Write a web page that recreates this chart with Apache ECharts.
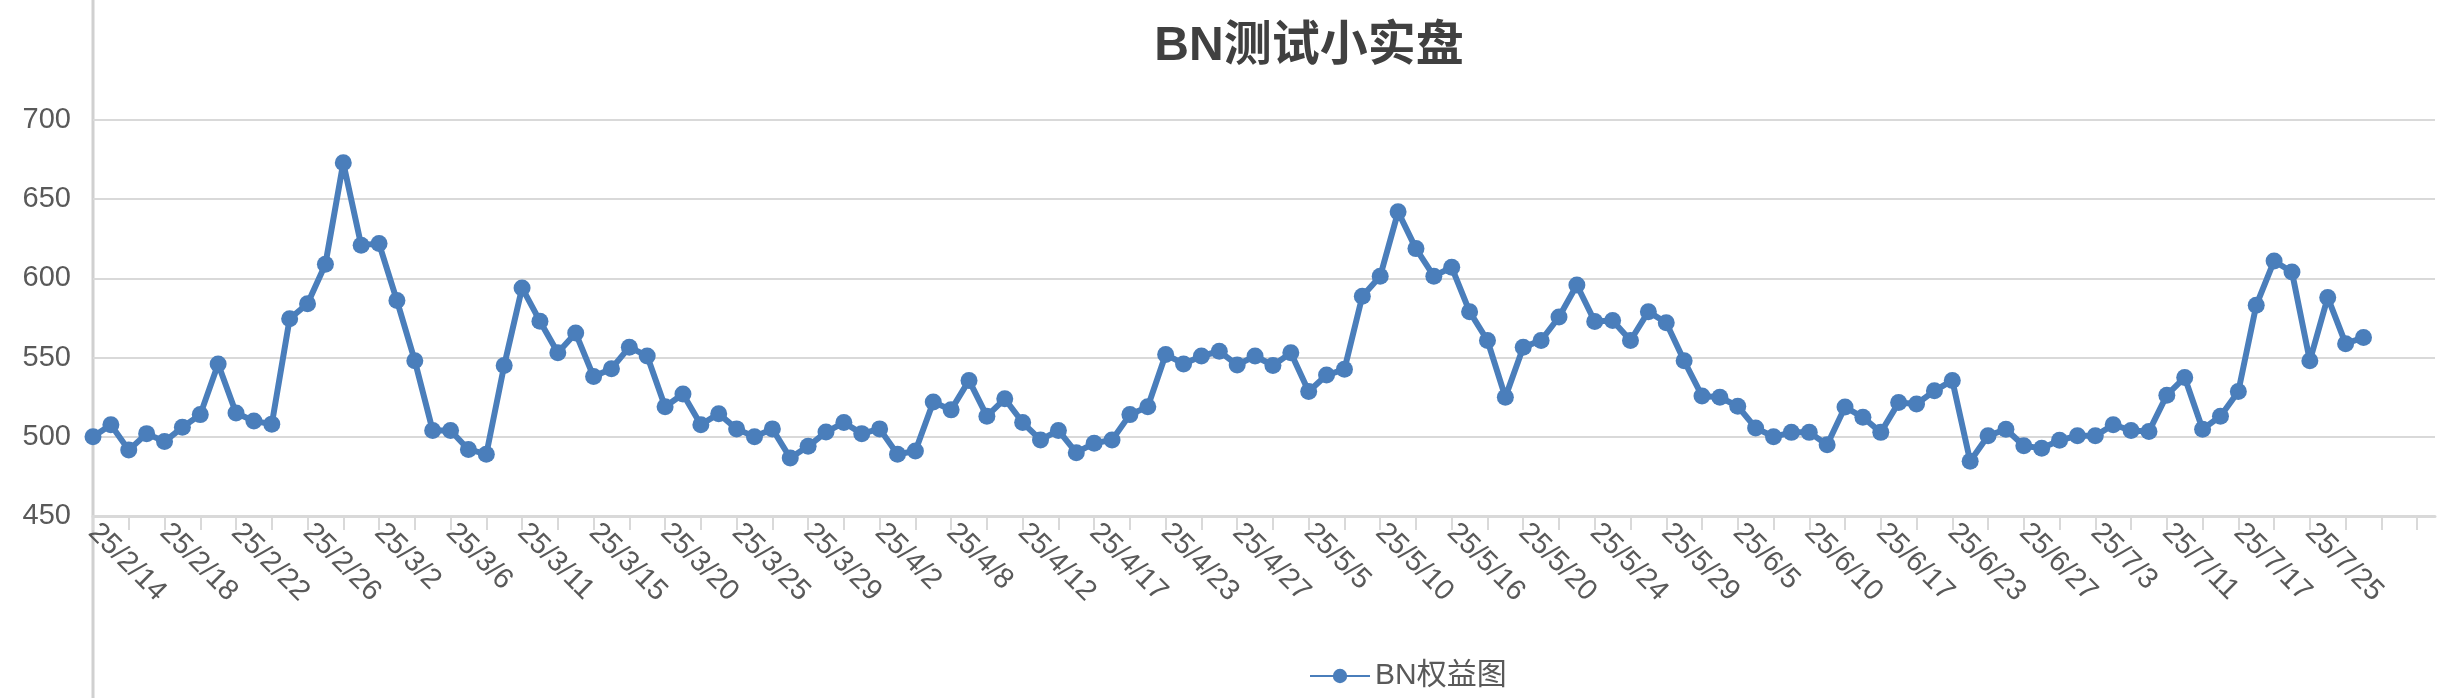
<!DOCTYPE html>
<html><head><meta charset="utf-8">
<script src="https://cdn.jsdelivr.net/npm/echarts@6/dist/echarts.min.js"></script>
<style>html,body{margin:0;padding:0;background:#fff}#c{width:2440px;height:698px}</style>
</head><body><div id="c"></div>
<script>
const categories = [
'25/2/14','25/2/15','25/2/16','25/2/17','25/2/18','25/2/19','25/2/20','25/2/21','25/2/22','25/2/23','25/2/24','25/2/25',
'25/2/26','25/2/27','25/2/28','25/3/1','25/3/2','25/3/3','25/3/4','25/3/5','25/3/6','25/3/7','25/3/9','25/3/10',
'25/3/11','25/3/12','25/3/13','25/3/14','25/3/15','25/3/17','25/3/18','25/3/19','25/3/20','25/3/21','25/3/23','25/3/24',
'25/3/25','25/3/26','25/3/27','25/3/28','25/3/29','25/3/30','25/3/31','25/4/1','25/4/2','25/4/3','25/4/6','25/4/7',
'25/4/8','25/4/9','25/4/10','25/4/11','25/4/12','25/4/14','25/4/15','25/4/16','25/4/17','25/4/19','25/4/21','25/4/22',
'25/4/23','25/4/24','25/4/25','25/4/26','25/4/27','25/4/29','25/5/1','25/5/3','25/5/5','25/5/6','25/5/8','25/5/9',
'25/5/10','25/5/12','25/5/14','25/5/15','25/5/16','25/5/17','25/5/18','25/5/19','25/5/20','25/5/21','25/5/22','25/5/23',
'25/5/24','25/5/26','25/5/27','25/5/28','25/5/29','25/5/31','25/6/2','25/6/3','25/6/5','25/6/6','25/6/8','25/6/9',
'25/6/10','25/6/12','25/6/14','25/6/16','25/6/17','25/6/19','25/6/20','25/6/22','25/6/23','25/6/24','25/6/25','25/6/26',
'25/6/27','25/6/29','25/7/1','25/7/2','25/7/3','25/7/5','25/7/8','25/7/10','25/7/11','25/7/13','25/7/15','25/7/16',
'25/7/17','25/7/19','25/7/21','25/7/23','25/7/25','25/7/26','25/7/27','25/7/28','','','',''
];
const equity = [
500,507.6,491.6,502,497,506,514,546,515,510,508,574.5,584,609,673,621,622,586,548,504,504,492,489,545,
594,573,553,565.5,538,543,556.6,551,519,527,507.6,514.6,505,500,505,486.6,494,503,509,502,505,489,491,522,
517,535.6,513,524,509,498,504,490,496,498,514,519,552,546,551,554,
545.4,551,545,553,528.6,539,542.6,588.8,601.4,642,618.8,601.4,607,579,560.8,525,556.6,560.8,575.6,595.8,
572.8,573.4,560.8,579,572,548,525.8,525,519.3,505.6,500,502.8,502.8,495,518.8,512.3,502.8,521.6,520.7,529,
535.6,484.6,500.6,504.8,494.4,492.7,497.8,500.6,500.6,507.6,504,503.4,526.3,537.5,504.8,513,528.6,583,611,
604,548,588,558.8,562.7
];
const seriesName = 'BN权益图';
const titleText = 'BN测试小实盘';

const chart = echarts.init(document.getElementById('c'));
chart.setOption({
  animation:false,
  title:{text:titleText,left:1304,top:18,textAlign:'center',textStyle:{fontSize:48,fontWeight:'bold',color:'#404040',fontFamily:'Helvetica, Arial, "Noto Sans CJK SC", sans-serif'}},
  legend:{bottom:2,left:1304,textAlign:'center',itemWidth:60,itemHeight:18,itemGap:10,textStyle:{fontSize:30,color:'#595959',fontFamily:'Helvetica, Arial, "Noto Sans CJK SC", sans-serif'},data:[seriesName]},
  grid:{left:93,right:5,top:120,bottom:182,containLabel:false},
  xAxis:{type:'category',data:categories,boundaryGap:false,
    axisLine:{lineStyle:{color:'#d9d9d9',width:3}},
    axisTick:{interval:1,length:14,lineStyle:{color:'#d9d9d9',width:2}},
    axisLabel:{interval:3,rotate:-45,fontSize:29,color:'#595959',margin:12,fontFamily:'Helvetica, Arial, sans-serif'}},
  yAxis:{type:'value',min:450,max:700,interval:50,
    axisLine:{show:false},axisTick:{show:false},
    splitLine:{lineStyle:{color:'#d9d9d9',width:2}},
    axisLabel:{fontSize:29,color:'#595959',margin:22,fontFamily:'Helvetica, Arial, sans-serif'}},
  graphic:[{type:'line',shape:{x1:93,y1:0,x2:93,y2:698},style:{stroke:'#d0d0d0',lineWidth:3},z:-1}],
  series:[{name:seriesName,type:'line',data:equity,symbol:'circle',symbolSize:17,showAllSymbol:true,
    lineStyle:{color:'#4a7ebb',width:6},itemStyle:{color:'#4a7ebb'}}]
});
</script></body></html>
